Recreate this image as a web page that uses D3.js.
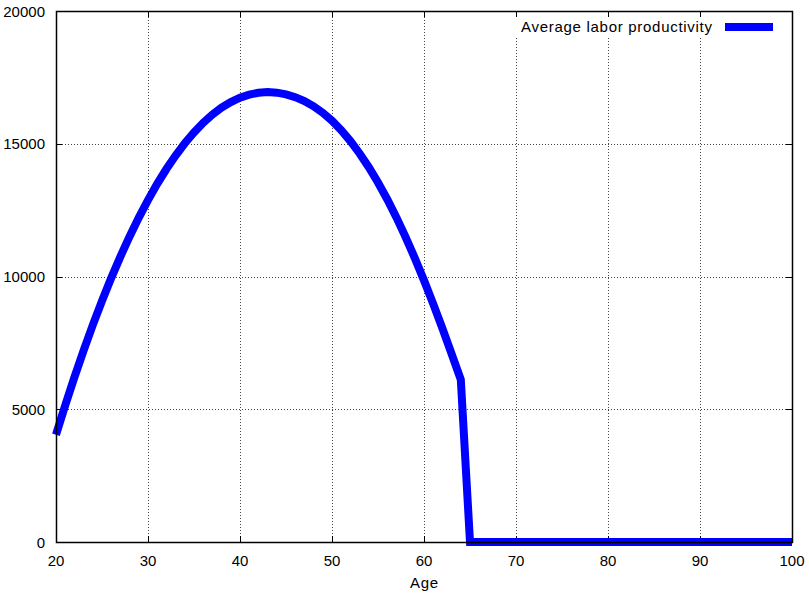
<!DOCTYPE html>
<html><head><meta charset="utf-8">
<script src="https://cdn.jsdelivr.net/npm/d3@7"></script>
<style>body{margin:0;background:#fff}svg{display:block}text{font-family:"Liberation Sans",Arial,sans-serif;fill:#000}</style>
</head><body>
<script>
const ages = d3.range(20, 101);
const productivity = [
  4040, 5148, 6206, 7215, 8173, 9082, 9941, 10750, 11509, 12219,
  12878, 13488, 14048, 14558, 15018, 15428, 15789, 16099, 16360, 16571,
  16735, 16850, 16920, 16950, 16925, 16860, 16755, 16605, 16410, 16165,
  15865, 15510, 15100, 14635, 14115, 13540, 12910, 12225, 11485, 10695,
  9855, 8970, 8045, 7090, 6115, 0, 0, 0, 0, 0,
  0, 0, 0, 0, 0, 0, 0, 0, 0, 0,
  0, 0, 0, 0, 0, 0, 0, 0, 0, 0,
  0, 0, 0, 0, 0, 0, 0, 0, 0, 0, 0
];
const xTicks = [20, 30, 40, 50, 60, 70, 80, 90, 100];
const yTicks = [0, 5000, 10000, 15000, 20000];
const seriesName = "Average labor productivity";
const xLabel = "Age";

const W = 809, H = 594;
const L = 56, R = 792, T = 11, B = 542;
const svg = d3.select("body").append("svg").attr("width", W).attr("height", H);
const x = d3.scaleLinear().domain([20, 100]).range([L, R]);
const y = d3.scaleLinear().domain([0, 20000]).range([B, T]);

// grid
const grid = svg.append("g").attr("stroke", "#444").attr("stroke-width", 1).attr("stroke-dasharray", "1,2");
grid.selectAll("line.gx").data(xTicks.slice(1, -1)).enter().append("line")
  .attr("x1", d => Math.round(x(d)) + 0.5).attr("x2", d => Math.round(x(d)) + 0.5)
  .attr("y1", T).attr("y2", B);
grid.selectAll("line.gy").data(yTicks.slice(1, -1)).enter().append("line")
  .attr("y1", d => Math.round(y(d)) + 0.5).attr("y2", d => Math.round(y(d)) + 0.5)
  .attr("x1", L).attr("x2", R);

// legend background
svg.append("rect").attr("x", 512).attr("y", 17).attr("width", 270).attr("height", 20).attr("fill", "#fff");

// ticks (inward, mirrored)
const tk = svg.append("g").attr("stroke", "#000").attr("stroke-width", 1);
xTicks.forEach(d => {
  const px = Math.round(x(d)) + 0.5;
  tk.append("line").attr("x1", px).attr("x2", px).attr("y1", B).attr("y2", B - 6);
  tk.append("line").attr("x1", px).attr("x2", px).attr("y1", T).attr("y2", T + 6);
});
yTicks.forEach(d => {
  const py = Math.round(y(d)) + 0.5;
  tk.append("line").attr("x1", L).attr("x2", L + 6).attr("y1", py).attr("y2", py);
  tk.append("line").attr("x1", R).attr("x2", R - 6).attr("y1", py).attr("y2", py);
});

// data line
const line = d3.line().x((d, i) => x(ages[i])).y(d => y(d));
svg.append("path").datum(productivity).attr("d", line)
  .attr("fill", "none").attr("stroke", "#0000ff").attr("stroke-width", 8)
  .attr("stroke-linejoin", "miter").attr("stroke-linecap", "butt");

// border
svg.append("rect").attr("x", L + 0.5).attr("y", T + 0.5).attr("width", R - L).attr("height", B - T)
  .attr("fill", "none").attr("stroke", "#000").attr("stroke-width", 1.5);

// tick labels
svg.append("g").selectAll("text").data(xTicks).enter().append("text")
  .attr("x", d => x(d)).attr("y", 566).attr("text-anchor", "middle")
  .attr("font-size", 15).text(d => d);
svg.append("g").selectAll("text").data(yTicks).enter().append("text")
  .attr("x", 45).attr("y", d => y(d) + 5.5).attr("text-anchor", "end")
  .attr("font-size", 15).text(d => d);

svg.append("text").attr("x", 424).attr("y", 588).attr("text-anchor", "middle")
  .attr("font-size", 15).attr("textLength", 28).attr("lengthAdjust", "spacing").text(xLabel);

// legend
svg.append("text").attr("x", 521).attr("y", 32)
  .attr("font-size", 15).attr("textLength", 191).attr("lengthAdjust", "spacing").text(seriesName);
svg.append("line").attr("x1", 725).attr("x2", 773).attr("y1", 27).attr("y2", 27)
  .attr("stroke", "#0000ff").attr("stroke-width", 8);
</script>
</body></html>
